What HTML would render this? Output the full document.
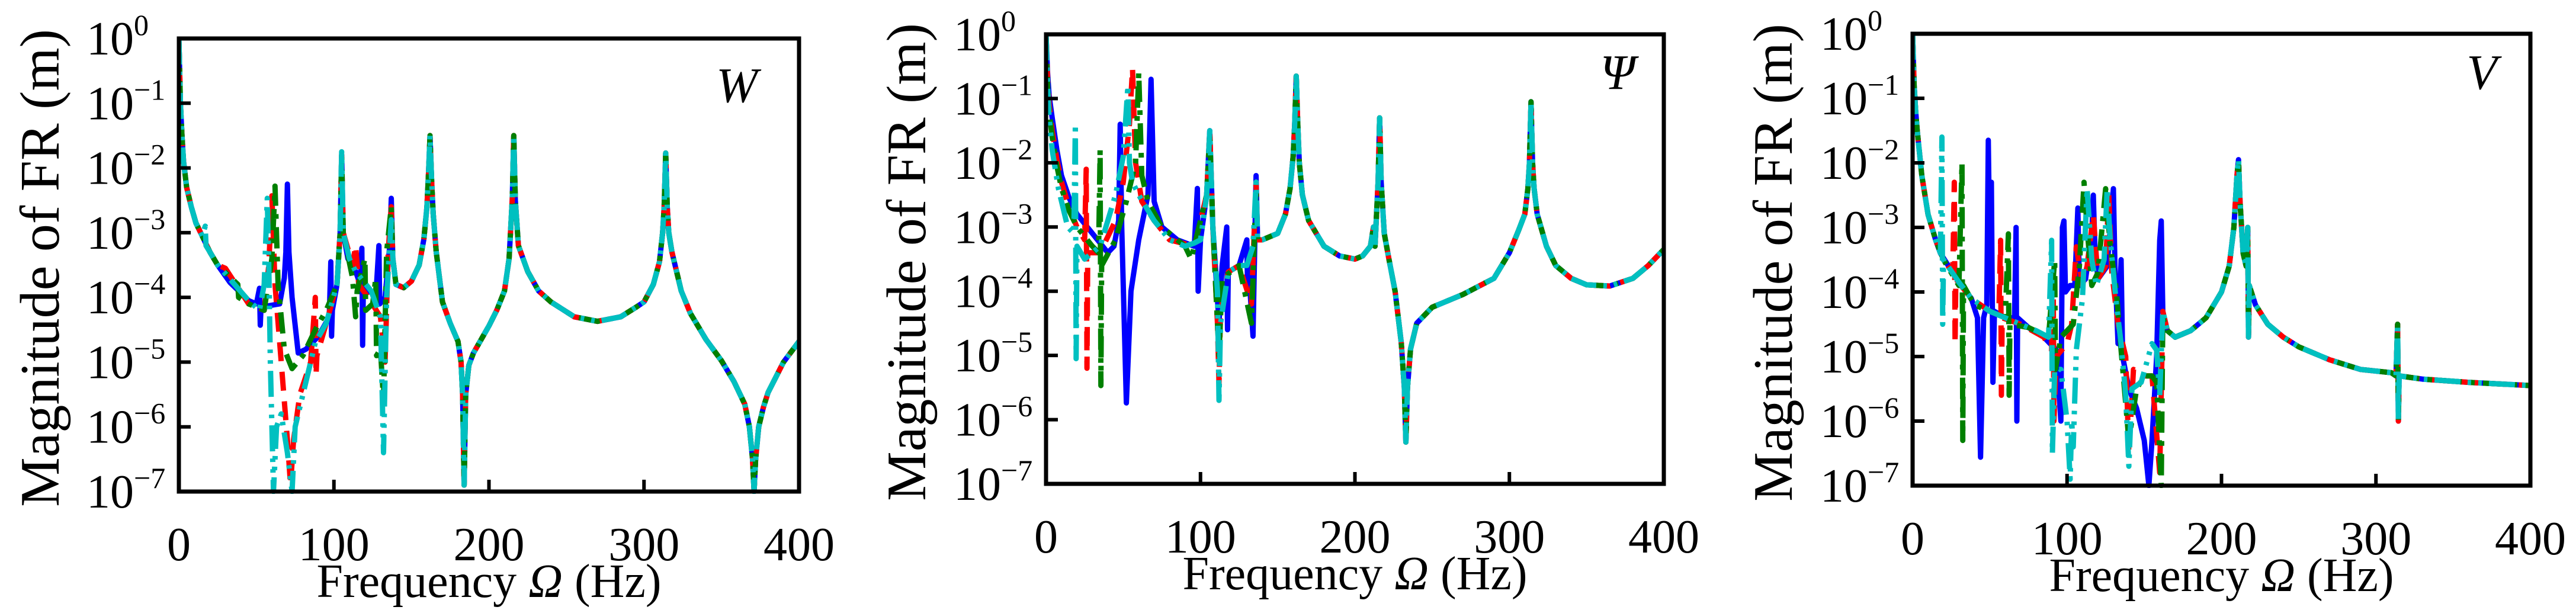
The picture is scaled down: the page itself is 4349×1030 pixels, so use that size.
<!DOCTYPE html>
<html><head><meta charset="utf-8"><title>FRF magnitude</title>
<style>html,body{margin:0;padding:0;background:#fff}svg{display:block}</style></head>
<body>
<svg id="fig" xmlns="http://www.w3.org/2000/svg" width="4349" height="1030" viewBox="0 0 4349 1030" font-family="'Liberation Serif', serif"></svg>
<script>
// ---------------- data (frequency Hz, log10 magnitude) ----------------
const xTicks = [0, 100, 200, 300, 400];
const yTickExps = [0, -1, -2, -3, -4, -5, -6, -7];
const panelLabels = ["W", "Ψ", "V"];
const seriesNames = ["blue", "red", "green", "cyan"];

const wShared = [[140,-3.8],[145,-3.85],[150,-3.75],[155,-3.5],[158,-3.1],[160,-2.6],[161,-2.1],[162,-1.5],[163,-2.2],[164,-2.7],[166,-3.3],[170,-4.07],[175,-4.4],[180,-4.68],[182,-5.0],[183,-5.5],[184,-6.9],[185,-5.5],[187,-5.05],[190,-4.86],[195,-4.65],[200,-4.44],[205,-4.2],[210,-3.9],[213,-3.4],[215,-2.5],[216,-1.5],[217,-2.5],[219,-3.2],[225,-3.6],[232,-3.9],[240,-4.07],[255,-4.3],[270,-4.37],[285,-4.3],[295,-4.15],[300,-4.07],[306,-3.8],[310,-3.45],[312,-3.0],[313,-2.6],[314,-1.77],[315,-2.6],[316,-3.0],[318,-3.3],[324,-3.9],[330,-4.25],[340,-4.65],[350,-4.98],[358,-5.3],[365,-5.65],[368,-6.0],[370,-6.5],[371,-7],[372,-6.5],[374,-6.0],[377,-5.7],[380,-5.47],[390,-5.0],[400,-4.68]];
const wBlue = [[0,0],[1,-1],[2,-1.5],[3,-1.9],[5,-2.3],[8,-2.6],[11,-2.85],[15,-3.05],[20,-3.3],[25,-3.5],[33,-3.77],[45,-4.05],[50,-4.1],[52,-3.86],[52.5,-4.43],[53,-4.15],[65,-4.1],[68,-3.7],[69,-3.3],[70,-2.25],[71,-3.3],[73,-4.0],[77,-4.86],[82,-4.8],[90,-4.6],[97,-4.3],[98,-3.45],[98.5,-4.6],[99,-4.2],[102,-3.8],[104,-3.0],[105,-1.8],[106,-3.0],[109,-3.4],[114,-3.6],[117,-3.8],[118,-3.24],[118.5,-4.74],[119,-3.8],[127,-4.0],[129,-3.2],[129.5,-4.1],[133,-4.0],[136,-3.2],[137,-2.47],[138,-3.4]];
const wRed = [[0,0],[1,-1],[2,-1.5],[3,-1.9],[5,-2.3],[8,-2.6],[11,-2.85],[15,-3.05],[20,-3.3],[25,-3.5],[30,-3.55],[45,-4.1],[55,-4.2],[58,-3.5],[60,-2.43],[62,-3.8],[66,-5],[70,-6.2],[72,-6.9],[74,-6.2],[78,-5.5],[85,-5.0],[88,-4.0],[88.5,-5.2],[89,-4.9],[95,-4.4],[102,-3.8],[104,-3.0],[105,-1.8],[106,-3.0],[112,-3.5],[114,-3.2],[116,-3.8],[122,-4.0],[130,-4.3],[133,-5.0],[135,-3.3],[137,-2.6],[138,-3.4]];
const wGreen = [[0,0],[1,-1],[2,-1.5],[3,-1.9],[5,-2.3],[8,-2.6],[11,-2.85],[15,-3.05],[20,-3.3],[25,-3.5],[38,-3.8],[38.5,-4.0],[45,-4.1],[55,-4.2],[60,-3.4],[62,-2.28],[64,-3.8],[68,-4.8],[73,-5.1],[80,-4.9],[88,-4.5],[95,-4.2],[102,-3.8],[104,-3.0],[105,-1.8],[106,-3.0],[112,-3.7],[114,-4.3],[115,-3.9],[120,-3.4],[120.5,-4.2],[125,-4.1],[127,-3.7],[127.5,-4.9],[130,-4.8],[132,-5.6],[134,-3.3],[137,-2.6],[138,-3.4]];
const wCyan = [[0,0],[1,-1],[2,-1.5],[3,-1.9],[5,-2.3],[8,-2.6],[11,-2.85],[15,-3.05],[17,-2.9],[17.5,-3.2],[20,-3.3],[25,-3.5],[45,-4.05],[52,-4.2],[55,-3.8],[57,-2.47],[58,-3.5],[59,-5],[61,-7],[63,-6],[66,-5.8],[70,-6.4],[73,-7],[75,-6],[80,-5.5],[88,-4.7],[95,-4.4],[102,-3.8],[104,-3.0],[105,-1.75],[106,-3.0],[110,-3.4],[114,-3.6],[124,-3.9],[130,-4.3],[132,-6.4],[134,-4],[137,-2.8],[138,-3.4]];

const pShared = [[140,-3.2],[150,-3.1],[155,-2.8],[158,-2.4],[160,-1.9],[161,-1.4],[162,-0.65],[163,-1.4],[164,-2.0],[166,-2.5],[170,-2.9],[180,-3.3],[190,-3.45],[200,-3.5],[205,-3.45],[210,-3.3],[212,-3.0],[213,-3.3],[215,-2.3],[216,-1.3],[217,-2.3],[219,-3.1],[222,-3.5],[226,-4.0],[230,-4.8],[232,-5.5],[233,-6.35],[234,-5.5],[236,-4.9],[240,-4.5],[250,-4.25],[270,-4.05],[290,-3.8],[300,-3.4],[306,-3.05],[310,-2.8],[312,-2.4],[313,-2.0],[314,-1.05],[315,-2.0],[316,-2.4],[318,-2.8],[324,-3.3],[330,-3.6],[340,-3.8],[350,-3.9],[365,-3.92],[380,-3.8],[390,-3.6],[400,-3.35]];
const pBlue = [[0,0],[1,-0.6],[2,-0.95],[4,-1.3],[7,-1.8],[10,-2.2],[15,-2.55],[20,-2.8],[30,-3.1],[40,-3.4],[44,-3.3],[47,-2.9],[48,-1.4],[49,-3.0],[52,-5.74],[55,-4.0],[60,-3.2],[66,-2.5],[68,-0.7],[70,-2.6],[75,-3.0],[85,-3.2],[96,-3.3],[98,-2.4],[98.5,-4.0],[100,-3.2],[104,-2.5],[106,-1.5],[108,-3.0],[112,-4.5],[114,-3.6],[117,-3.0],[117.5,-4.6],[118,-3.7],[125,-3.6],[130,-3.2],[130.5,-4.0],[131,-3.6],[134,-4.7],[136,-2.2],[137,-3.2]];
const pRed = [[0,0],[1,-0.7],[2,-1.1],[4,-1.5],[7,-1.95],[10,-2.3],[15,-2.7],[20,-3.0],[25,-3.2],[26,-2.1],[26.5,-5.2],[27,-3.4],[35,-3.4],[45,-2.9],[50,-2.3],[54,-1.4],[56,-0.53],[58,-2.0],[62,-2.6],[70,-2.9],[80,-3.2],[96,-3.3],[104,-2.5],[106,-1.5],[108,-3.0],[111,-4.5],[112,-5.44],[113,-4.3],[118,-3.7],[125,-3.6],[133,-4.2],[136,-2.3],[137,-3.2]];
const pGreen = [[0,0],[1,-0.8],[2,-1.2],[4,-1.6],[7,-2.05],[10,-2.4],[15,-2.75],[20,-3.0],[30,-3.3],[34,-3.4],[35,-1.8],[35.5,-5.47],[36,-3.6],[45,-3.2],[52,-2.6],[58,-2.0],[60,-0.6],[62,-2.2],[66,-2.6],[75,-3.0],[90,-3.3],[94,-3.5],[96,-3.3],[104,-2.5],[106,-1.55],[108,-3.0],[112,-5.0],[114,-3.8],[125,-3.6],[133,-4.5],[136,-2.4],[137,-3.2]];
const pCyan = [[0,0],[1,-0.8],[2,-1.3],[4,-1.8],[8,-2.4],[14,-3.0],[18,-3.1],[19,-1.4],[19.5,-5.05],[20,-3.3],[25,-3.5],[35,-3.3],[45,-2.5],[50,-1.9],[53,-0.8],[54,-2.0],[56,-2.3],[60,-2.5],[65,-2.7],[70,-2.9],[80,-3.2],[90,-3.3],[96,-3.25],[100,-3.2],[104,-2.5],[106,-1.5],[108,-3.0],[111,-4.0],[112,-5.7],[113,-4.5],[118,-3.7],[125,-3.6],[130,-3.6],[134,-3.3],[136,-2.3],[137,-3.2]];

const vShared = [[165,-4.6],[170,-4.7],[180,-4.6],[190,-4.4],[200,-4.0],[205,-3.6],[208,-3.0],[210,-2.2],[211,-1.95],[212,-2.6],[214,-3.4],[216,-3.6],[217,-3.0],[217.5,-4.7],[218,-3.9],[222,-4.2],[230,-4.5],[240,-4.7],[250,-4.85],[270,-5.05],[290,-5.2],[310,-5.25],[313,-5.3],[314,-4.5],[314.5,-6.0],[315,-5.3],[330,-5.35],[360,-5.4],[400,-5.45]];
const vBlue = [[0,0],[1,-0.8],[2,-1.2],[3,-1.5],[6,-2.2],[10,-2.8],[15,-3.2],[18,-3.4],[30,-3.85],[38,-4.1],[42,-4.4],[44,-6.56],[46,-4.4],[48,-4.2],[49,-1.65],[50,-3.5],[51,-2.3],[52,-5.4],[53,-4.3],[60,-4.4],[66,-4.4],[67,-3.0],[67.5,-6.0],[68,-4.4],[75,-4.55],[85,-4.7],[93,-4.9],[96,-6.0],[97,-3.0],[98,-2.9],[99,-4.0],[102,-3.9],[105,-3.9],[107,-2.7],[108,-3.9],[112,-3.8],[116,-3.1],[117,-2.5],[118,-3.3],[120,-3.8],[126,-3.6],[130,-2.4],[131,-3.6],[133,-4.8],[135,-3.5],[136,-5.0],[140,-5.5],[145,-5.8],[150,-6.3],[153,-7],[155,-6.3],[158,-5.0],[160,-3.2],[161,-2.9],[162,-4.3]];
const vRed = [[0,0],[1,-0.8],[2,-1.2],[3,-1.5],[6,-2.2],[10,-2.8],[15,-3.2],[20,-3.5],[26,-3.7],[27,-2.3],[27.5,-4.8],[28,-3.8],[38,-4.1],[50,-4.3],[56,-4.2],[57,-3.2],[57.5,-5.6],[58,-4.4],[70,-4.5],[85,-4.7],[90,-4.9],[91,-3.6],[91.5,-6.0],[93,-5.0],[100,-4.8],[103,-4.5],[106,-3.3],[110,-3.9],[113,-3.6],[117,-2.8],[120,-3.8],[125,-3.6],[127,-2.5],[129,-3.7],[133,-4.5],[138,-5.0],[140,-6.5],[143,-5.2],[150,-5.3],[155,-5.3],[160,-6.8],[162,-4.3]];
const vGreen = [[0,0],[1,-0.8],[2,-1.2],[3,-1.5],[6,-2.2],[10,-2.8],[15,-3.2],[20,-3.5],[30,-3.9],[32,-2.0],[32.5,-6.3],[33,-3.9],[40,-4.2],[60,-4.4],[62,-3.1],[62.5,-5.6],[63,-4.5],[75,-4.55],[88,-4.7],[92,-3.5],[92.5,-5.2],[96,-4.7],[104,-4.5],[108,-3.6],[111,-2.3],[113,-3.0],[116,-3.9],[120,-3.7],[125,-2.4],[128,-3.3],[132,-4.0],[135,-4.9],[140,-6.3],[145,-5.5],[150,-5.3],[155,-5.3],[158,-5.4],[161,-7],[162,-4.4]];
const vCyan = [[0,0],[1,-0.8],[2,-1.2],[3,-1.5],[6,-2.2],[10,-2.8],[15,-3.2],[18,-3.4],[19,-1.6],[19.5,-4.5],[20,-3.5],[30,-3.85],[38,-4.1],[50,-4.3],[60,-4.4],[70,-4.5],[80,-4.6],[88,-4.7],[90,-3.2],[90.5,-6.5],[92,-5.2],[96,-5.2],[100,-6],[102,-6.9],[103,-6],[104,-6.4],[106,-4.9],[110,-4.1],[113,-2.4],[116,-3.5],[119,-3.9],[124,-3.5],[126,-2.4],[128,-3.2],[132,-4.2],[135,-4.8],[138,-5.6],[140,-6.7],[142,-5.5],[148,-5.4],[155,-4.8],[158,-4.9],[160,-5.6],[162,-4.3]];

// ---------------- layout ----------------
const NS = "http://www.w3.org/2000/svg";
const svg = document.getElementById("fig");
const panels = [
  {L:302, R:1349, T:65, B:830, ylab:67, lab:[1244,172], id:"w", data:[wBlue,wRed,wGreen,wCyan], shared:wShared},
  {L:1766, R:2809, T:58, B:817, ylab:1530, lab:[2731,150], id:"psi", data:[pBlue,pRed,pGreen,pCyan], shared:pShared},
  {L:3229, R:4272, T:57, B:820, ylab:2993, lab:[4190,150], id:"v", data:[vBlue,vRed,vGreen,vCyan], shared:vShared}
];
const styles = [
  {c:"#0000ff", d:""},
  {c:"#ff0000", d:"32 18"},
  {c:"#008000", d:"36 14 8 14"},
  {c:"#00c0c0", d:"44 12 6 12 6 12"}
];
function mk(tag, attrs, parent){ const e=document.createElementNS(NS,tag); for(const k in attrs) e.setAttribute(k,attrs[k]); (parent||svg).appendChild(e); return e; }

panels.forEach((p, pi) => {
  const g = mk("g", {});
  
  
  const xs = f => p.L + (f - 0) / 400 * (p.R - p.L);
  const ys = e => p.T + (0 - e) / 7 * (p.B - p.T);
  const clip = mk("clipPath", {id:"clip"+pi}, g);
  mk("rect", {x:p.L, y:p.T-4, width:p.R-p.L+6, height:p.B-p.T+8}, clip);

  seriesNames.forEach((nm, si) => {
    const pts = p.data[si].concat(p.shared);
    const d = pts.map((q,i)=>(i?"L":"M")+xs(q[0]).toFixed(1)+","+ys(q[1]).toFixed(1)).join("");
    const path = mk("path", {d:d, fill:"none", stroke:styles[si].c, "stroke-width":9, "stroke-dasharray":styles[si].d, "stroke-linejoin":"round", "clip-path":"url(#clip"+pi+")"}, g);
    
    
  });

  const frame = mk("rect", {x:p.L, y:p.T, width:p.R-p.L, height:p.B-p.T, fill:"none", stroke:"#000", "stroke-width":7}, g);
  
  

  yTickExps.forEach(e => {
    const y = ys(e);
    if (e < 0 && e > -7) mk("line", {x1:p.L, x2:p.L+20, y1:y, y2:y, stroke:"#000", "stroke-width":6}, g);
    const t = mk("text", {x:p.L-156, y:y+27, "font-size":80, fill:"#000"}, g);
    
    
    t.textContent = "10";
    const s = mk("tspan", {dy:-33, "font-size":50}, t);
    s.textContent = e === 0 ? "0" : "\u2212" + (-e);
  });
  xTicks.forEach(f => {
    const x = xs(f);
    if (f > 0 && f < 400) mk("line", {x1:x, x2:x, y1:p.B, y2:p.B-20, stroke:"#000", "stroke-width":6}, g);
    const t = mk("text", {x:x, y:p.B+116, "font-size":80, "text-anchor":"middle", fill:"#000"}, g);
    
    
    t.textContent = f;
  });
  const xl = mk("text", {x:(p.L+p.R)/2, y:p.B+178, "font-size":80, "text-anchor":"middle", fill:"#000"}, g);
  
  
  xl.innerHTML = 'Frequency <tspan font-style="italic">Ω</tspan> (Hz)';
  const ymid = (p.T+p.B)/2 + 5;
  const yl = mk("text", {x:0, y:0, "font-size":94, "text-anchor":"middle", fill:"#000", transform:"translate("+(p.ylab+32)+","+ymid+") rotate(-90)"}, g);
  
  
  yl.textContent = "Magnitude of FR (m)";
  const pl = mk("text", {x:p.lab[0], y:p.lab[1], "font-size":84, "font-style":"italic", "text-anchor":"middle", fill:"#000"}, g);
  
  
  pl.textContent = panelLabels[pi];
});
</script>
</body></html>
